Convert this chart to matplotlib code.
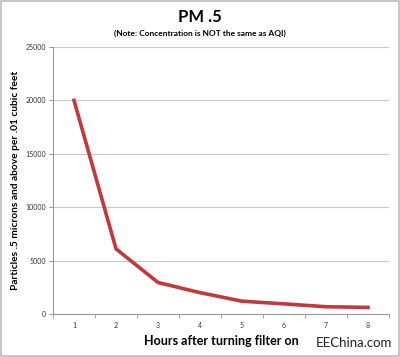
import numpy as np
import matplotlib.pyplot as plt
from matplotlib.patches import Rectangle

plt.rcParams['font.family'] = ['Lato', 'DejaVu Sans']

hours = [1, 2, 3, 4, 5, 6, 7, 8]
particles = [20000, 6100, 2950, 2000, 1200, 950, 680, 620]
yticks = [0, 5000, 10000, 15000, 20000, 25000]

fig = plt.figure(figsize=(4.0, 3.57), dpi=100)
ax = fig.add_axes([53/400, 1 - 314/357, 336/400, 267/357])

x = np.arange(len(hours))
ax.plot(x, particles, color='#c0393b', linewidth=2.6, solid_joinstyle='round')

ax.set_xlim(-0.5, len(hours) - 0.5)
ax.set_ylim(0, 25000)
ax.set_yticks(yticks)
ax.set_yticklabels([str(v) for v in yticks], fontsize=5, color='#333333')
ax.set_xticks(x)
ax.set_xticklabels([str(h) for h in hours], fontsize=5, color='#333333')
ax.set_xticks(np.arange(len(hours) + 1) - 0.5, minor=True)
ax.tick_params(axis='x', which='major', length=0, pad=6)
ax.tick_params(axis='x', which='minor', length=3, color='#999999')
ax.tick_params(axis='y', length=3, color='#999999', pad=2)

ax.grid(axis='y', color='#c8c8c8', linewidth=0.8)
ax.set_axisbelow(True)
for s in ['top', 'right']:
    ax.spines[s].set_visible(False)
for s in ['left', 'bottom']:
    ax.spines[s].set_color('#999999')
    ax.spines[s].set_linewidth(0.8)

ax.set_ylabel('Particles .5 microns and above per .01 cubic feet',
              fontsize=7.3, fontweight='bold', labelpad=4)
ax.set_xlabel('Hours after turning filter on', fontsize=9, fontweight='bold',
              labelpad=4)

fig.text(0.5, 1 - 17/357, 'PM .5', ha='center', va='center',
         fontsize=12, fontweight='bold')
fig.text(0.5, 1 - 33/357, '(Note: Concentration is NOT the same as AQI)',
         ha='center', va='center', fontsize=6, fontweight='bold')
fig.text(392/400, 1 - 343/357, 'EEChina.com', ha='right', va='center',
         fontsize=9.5, color='#222222')

fig.patches.append(Rectangle((0.002, 0.003), 0.995, 0.994, transform=fig.transFigure,
                             fill=False, edgecolor='#bbbbbb', linewidth=1.2))

fig.savefig('out.png', dpi=100)
